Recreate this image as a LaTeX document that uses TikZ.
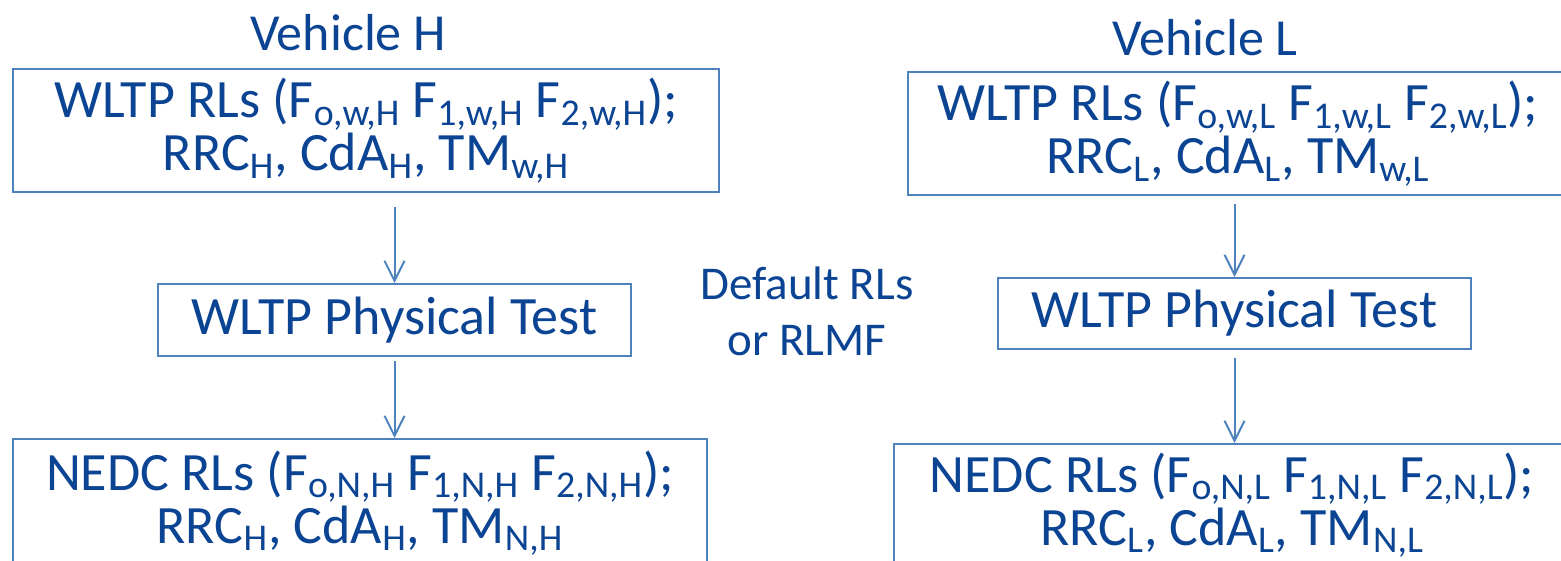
\documentclass[tikz,border=0pt]{standalone}
\usepackage{fontspec}
\setmainfont{Carlito}
\usetikzlibrary{arrows.meta}
\definecolor{txtblue}{RGB}{12,68,148}
\definecolor{lineblue}{RGB}{79,129,189}
\newcommand{\sbs}[1]{\textsubscript{#1}}

\begin{document}
\begin{tikzpicture}[x=0.5pt,y=-0.5pt,
  box/.style={draw=lineblue, line width=1pt, text=txtblue, align=center, anchor=north west, inner sep=0pt, font=\fontsize{27}{26.5}\selectfont},
  title/.style={text=txtblue, font=\fontsize{26}{28}\selectfont},
  arr/.style={draw=lineblue, line width=1pt, -{Straight Barb[length=10pt,width=10pt]}, shorten <=4pt}]
  \useasboundingbox (0,0) rectangle (1561,561);
  \clip (0,0) rectangle (1561,561);
  % vehicle H
  \node[title] (vehH) at (348,33) {Vehicle H};
  \node[box, minimum width=353pt, minimum height=61.5pt] (wltpH) at (12,68) {WLTP RLs (F\sbs{o,w,H} F\sbs{1,w,H} F\sbs{2,w,H});\\ RRC\sbs{H}, CdA\sbs{H}, TM\sbs{w,H}};
  \node[box, minimum width=236.5pt, minimum height=36pt] (testH) at (157,283) {WLTP Physical Test};
  \node[box, minimum width=347pt, minimum height=64pt] (nedcH) at (12,438) {NEDC RLs (F\sbs{o,N,H} F\sbs{1,N,H} F\sbs{2,N,H});\\ RRC\sbs{H}, CdA\sbs{H}, TM\sbs{N,H}};
  % vehicle L
  \node[title] (vehL) at (1205,38) {Vehicle L};
  \node[box, minimum width=330pt, minimum height=61.5pt] (wltpL) at (907,71) {WLTP RLs (F\sbs{o,w,L} F\sbs{1,w,L} F\sbs{2,w,L});\\ RRC\sbs{L}, CdA\sbs{L}, TM\sbs{w,L}};
  \node[box, minimum width=236.5pt, minimum height=35.5pt] (testL) at (997,277) {WLTP Physical Test};
  \node[box, minimum width=338pt, minimum height=61pt] (nedcL) at (893,443) {NEDC RLs (F\sbs{o,N,L} F\sbs{1,N,L} F\sbs{2,N,L});\\ RRC\sbs{L}, CdA\sbs{L}, TM\sbs{N,L}};
  % middle
  \node[title, align=center, font=\fontsize{23.5}{28}\selectfont] (dflt) at (807,311) {Default RLs\\or RLMF};
  \draw[arr, shorten <=7pt] (wltpH.south -| testH.north) -- (testH.north);
  \draw[arr, shorten <=2pt] (testH.south) -- (nedcH.north -| testH.south);
  \draw[arr] (wltpL.south -| testL.north) -- (testL.north);
  \draw[arr] (testL.south) -- (nedcL.north -| testL.south);
\end{tikzpicture}
\end{document}
